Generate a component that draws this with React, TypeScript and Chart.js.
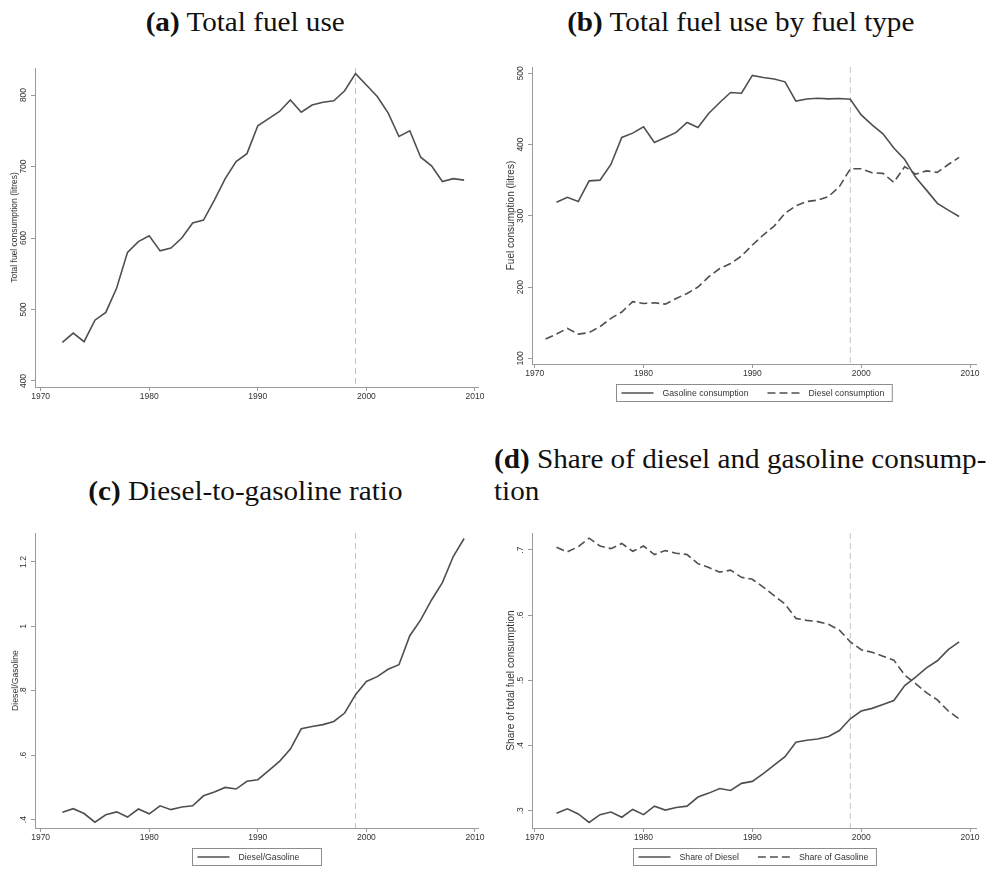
import React, { useEffect, useRef } from "react";
import { Chart, registerables } from "chart.js";

Chart.register(...registerables);

// ---------------- DATA ----------------
const YEARS = [
  1972, 1973, 1974, 1975, 1976, 1977, 1978, 1979, 1980, 1981,
  1982, 1983, 1984, 1985, 1986, 1987, 1988, 1989, 1990, 1991,
  1992, 1993, 1994, 1995, 1996, 1997, 1998, 1999, 2000, 2001,
  2002, 2003, 2004, 2005, 2006, 2007, 2008, 2009,
];
const DIESEL_YEARS = [
  1971, 1972, 1973, 1974, 1975, 1976, 1977, 1978, 1979, 1980, 1981,
  1982, 1983, 1984, 1985, 1986, 1987, 1988, 1989, 1990, 1991,
  1992, 1993, 1994, 1995, 1996, 1997, 1998, 1999, 2000, 2001,
  2002, 2003, 2004, 2005, 2006, 2007, 2008, 2009,
];

// (a) Total fuel consumption (litres)
const TOTAL_FUEL = [
  454, 467, 455, 485, 496, 530, 580, 595, 603, 582,
  586, 600, 621, 625, 653, 683, 707, 718, 757, 767,
  777, 793, 776, 786, 790, 792, 806, 830, 814, 798,
  775, 742, 750, 713, 701, 679, 683, 681,
];

// (b) Fuel consumption by type (litres)
const GASOLINE = [
  319, 326, 320, 349, 350, 372, 410, 416, 425, 403,
  410, 417, 431, 424, 444, 459, 473, 472, 497, 494,
  492, 488, 461, 464, 465, 464, 464.5, 463.5, 441.5, 427.5,
  415, 395, 379, 354, 336, 317.5, 308, 299,
];
const DIESEL = [
  127, 134, 142, 134, 136, 144.5, 156, 165, 179.5, 177, 178,
  176, 184, 191, 200, 214.5, 226, 233, 243.5, 259, 273,
  285.5, 303.5, 314, 320, 322, 327, 341, 366, 366, 360.5,
  359.5, 347, 369, 358.5, 363, 361, 372, 382,
];

// (c) Diesel-to-gasoline ratio
const RATIO = [
  0.423, 0.434, 0.419, 0.392, 0.415, 0.424, 0.408, 0.433, 0.418, 0.443,
  0.431, 0.439, 0.443, 0.474, 0.486, 0.500, 0.495, 0.519, 0.524, 0.552,
  0.581, 0.619, 0.682, 0.689, 0.695, 0.705, 0.731, 0.788, 0.829, 0.844,
  0.867, 0.881, 0.971, 1.020, 1.082, 1.136, 1.217, 1.273,
];

// (d) Shares of total fuel consumption
const SHARE_DIESEL = [
  0.296, 0.303, 0.295, 0.282, 0.294, 0.298, 0.290, 0.302, 0.294, 0.307,
  0.301, 0.305, 0.307, 0.321, 0.327, 0.334, 0.331, 0.342, 0.345, 0.357,
  0.370, 0.383, 0.405, 0.408, 0.410, 0.414, 0.423, 0.441, 0.453, 0.457,
  0.463, 0.469, 0.492, 0.505, 0.519, 0.530, 0.547, 0.559,
];
const SHARE_GASOLINE = [
  0.704, 0.697, 0.705, 0.718, 0.706, 0.702, 0.710, 0.698, 0.706, 0.693,
  0.699, 0.695, 0.693, 0.679, 0.673, 0.666, 0.669, 0.658, 0.655, 0.643,
  0.630, 0.617, 0.595, 0.592, 0.590, 0.586, 0.577, 0.559, 0.547, 0.543,
  0.537, 0.531, 0.508, 0.495, 0.481, 0.470, 0.453, 0.441,
];

const X_TICKS = [1970, 1980, 1990, 2000, 2010];
const Y_TICKS_A = [400, 500, 600, 700, 800];
const Y_TICKS_B = [100, 200, 300, 400, 500];
const Y_TICKS_C = [0.4, 0.6, 0.8, 1, 1.2];
const Y_TICKS_D = [0.3, 0.4, 0.5, 0.6, 0.7];
const VLINE_YEAR = 1999;

// ---------------- STYLE ----------------
const LINE_COLOR = "#4f4f4f";
const AXIS_COLOR = "#9a9a9a";
const TEXT_COLOR = "#333333";
const SANS = '"Liberation Sans", Arial, sans-serif';
const SERIF = '"Liberation Serif", "Times New Roman", serif';
const DASH = [8, 4];

const fmt = (v: number) => {
  const s = String(v);
  return s.startsWith("0.") ? s.slice(1) : s;
};

const pts = (xs: number[], ys: number[]) => xs.map((x, i) => ({ x, y: ys[i] }));

// ---------------- PLUGINS ----------------
const stataPlugin = {
  id: "stata",
  beforeDatasetsDraw(chart: any) {
    const { ctx, chartArea, scales } = chart;
    const x = scales.x.getPixelForValue(VLINE_YEAR);
    ctx.save();
    ctx.strokeStyle = "#c4c4c4";
    ctx.lineWidth = 1;
    ctx.setLineDash([6, 4]);
    ctx.beginPath();
    ctx.moveTo(x, chartArea.top);
    ctx.lineTo(x, chartArea.bottom);
    ctx.stroke();
    ctx.restore();
  },
  afterDraw(chart: any, _args: any, opts: any) {
    const { ctx, chartArea, scales } = chart;
    // rotated y tick labels
    const ys = scales.y;
    ctx.save();
    ctx.fillStyle = TEXT_COLOR;
    ctx.font = `8.5px ${SANS}`;
    ctx.textAlign = "center";
    ctx.textBaseline = "middle";
    ys.ticks.forEach((t: any) => {
      const py = ys.getPixelForValue(t.value);
      ctx.save();
      ctx.translate(chartArea.left - (opts.yLabelOffset || 11), py);
      ctx.rotate(-Math.PI / 2);
      ctx.fillText(fmt(t.value), 0, 0);
      ctx.restore();
    });
    ctx.restore();

    // legend with frame
    if (!opts.legend) return;
    const ds = chart.data.datasets;
    const font = `8.7px ${SANS}`;
    ctx.save();
    ctx.font = font;
    const padL = 5, sample = 32, gap = 9, colGap = 19, padR = 8;
    const widths = ds.map((d: any) => ctx.measureText(d.label).width);
    let content = padL + padR;
    widths.forEach((w: number, i: number) => {
      content += sample + gap + w + (i > 0 ? colGap : 0);
    });
    const boxW = Math.max(content, opts.legendMinWidth || 0);
    const boxH = 17;
    const cx = (chartArea.left + chartArea.right) / 2;
    const left = Math.round(cx - boxW / 2) + 0.5;
    const top = Math.round(chartArea.bottom + (opts.legendOffset || 20)) + 0.5;
    ctx.strokeStyle = "#8c8c8c";
    ctx.lineWidth = 1;
    ctx.strokeRect(left, top, boxW, boxH);
    let x = left + padL;
    const my = top + boxH / 2;
    ds.forEach((d: any, i: number) => {
      if (i > 0) x += colGap;
      ctx.strokeStyle = LINE_COLOR;
      ctx.lineWidth = 1.5;
      ctx.setLineDash(d.borderDash || []);
      ctx.beginPath();
      ctx.moveTo(x, my);
      ctx.lineTo(x + sample, my);
      ctx.stroke();
      ctx.setLineDash([]);
      x += sample + gap;
      ctx.fillStyle = TEXT_COLOR;
      ctx.textAlign = "left";
      ctx.textBaseline = "middle";
      ctx.fillText(d.label, x, my + 0.5);
      x += widths[i];
    });
    ctx.restore();
  },
};

// ---------------- PANELS ----------------
type Series = { label: string; xs: number[]; ys: number[]; dash?: number[] };
type Panel = {
  key: string;
  left: number;
  top: number;
  width: number;
  height: number;
  yWidth: number;
  padTop: number;
  padRight: number;
  padBottom: number;
  xMin: number;
  xMax: number;
  yMin: number;
  yMax: number;
  yTicks: number[];
  yTitle: string;
  yTitleSize: number;
  yTitlePad: number;
  legend: boolean;
  legendMinWidth?: number;
  series: Series[];
};

const PANELS: Panel[] = [
  {
    key: "a", left: 0, top: 50, width: 490, height: 370,
    yWidth: 35, padTop: 18, padRight: 12, padBottom: 13,
    xMin: 1969.48, xMax: 2010.28, yMin: 391.6, yMax: 837.8,
    yTicks: Y_TICKS_A, yTitle: "Total fuel consumption (litres)", yTitleSize: 8.5, yTitlePad: 10,
    legend: false,
    series: [{ label: "Total fuel consumption", xs: YEARS, ys: TOTAL_FUEL }],
  },
  {
    key: "b", left: 494, top: 50, width: 494, height: 370,
    yWidth: 38, padTop: 17, padRight: 12, padBottom: 36,
    xMin: 1969.75, xMax: 2010.55, yMin: 92, yMax: 508.8,
    yTicks: Y_TICKS_B, yTitle: "Fuel consumption (litres)", yTitleSize: 10, yTitlePad: 11,
    legend: true,
    series: [
      { label: "Gasoline consumption", xs: YEARS, ys: GASOLINE },
      { label: "Diesel consumption", xs: DIESEL_YEARS, ys: DIESEL, dash: DASH },
    ],
  },
  {
    key: "c", left: 0, top: 520, width: 490, height: 349,
    yWidth: 35, padTop: 13, padRight: 12, padBottom: 21,
    xMin: 1969.48, xMax: 2010.28, yMin: 0.374, yMax: 1.29,
    yTicks: Y_TICKS_C, yTitle: "Diesel/Gasoline", yTitleSize: 8.7, yTitlePad: 10,
    legend: true, legendMinWidth: 129,
    series: [{ label: "Diesel/Gasoline", xs: YEARS, ys: RATIO }],
  },
  {
    key: "d", left: 494, top: 520, width: 494, height: 349,
    yWidth: 38, padTop: 13, padRight: 12, padBottom: 21,
    xMin: 1969.75, xMax: 2010.55, yMin: 0.2735, yMax: 0.726,
    yTicks: Y_TICKS_D, yTitle: "Share of total fuel consumption", yTitleSize: 10.2, yTitlePad: 11,
    legend: true,
    series: [
      { label: "Share of Diesel", xs: YEARS, ys: SHARE_DIESEL },
      { label: "Share of Gasoline", xs: YEARS, ys: SHARE_GASOLINE, dash: DASH },
    ],
  },
];

function ChartPanel({ p }: { p: Panel }) {
  const ref = useRef<HTMLCanvasElement | null>(null);
  useEffect(() => {
    if (!ref.current) return;
    const tickGrid = {
      display: true,
      drawOnChartArea: false,
      drawTicks: true,
      tickLength: 4,
      tickColor: AXIS_COLOR,
      tickWidth: 1,
    };
    const chart = new Chart(ref.current, {
      type: "line",
      data: {
        datasets: p.series.map((s) => ({
          label: s.label,
          data: pts(s.xs, s.ys),
          borderColor: LINE_COLOR,
          backgroundColor: LINE_COLOR,
          borderWidth: 1.6,
          borderDash: s.dash || [],
          pointRadius: 0,
          fill: false,
          tension: 0,
        })),
      },
      options: {
        animation: false,
        responsive: false,
        maintainAspectRatio: false,
        layout: { padding: { top: p.padTop, right: p.padRight, bottom: p.padBottom, left: 0 } },
        plugins: {
          legend: { display: false },
          tooltip: { enabled: false },
          stata: { legend: p.legend, legendMinWidth: p.legendMinWidth, yLabelOffset: 11, legendOffset: 20 },
        } as any,
        scales: {
          x: {
            type: "linear",
            min: p.xMin,
            max: p.xMax,
            afterBuildTicks: (s: any) => { s.ticks = X_TICKS.map((v) => ({ value: v })); },
            afterFit: (s: any) => { s.height = 20; },
            grid: tickGrid,
            border: { display: true, color: AXIS_COLOR, width: 1 },
            ticks: {
              color: TEXT_COLOR,
              font: { family: SANS, size: 8.5 },
              padding: 1,
              maxRotation: 0,
              autoSkip: false,
              callback: (v: any) => String(v),
            },
          },
          y: {
            type: "linear",
            min: p.yMin,
            max: p.yMax,
            afterBuildTicks: (s: any) => { s.ticks = p.yTicks.map((v) => ({ value: v })); },
            afterFit: (s: any) => { s.width = p.yWidth; },
            grid: tickGrid,
            border: { display: true, color: AXIS_COLOR, width: 1 },
            ticks: { display: false },
            title: {
              display: true,
              text: p.yTitle,
              color: TEXT_COLOR,
              font: { family: SANS, size: p.yTitleSize },
              padding: { top: p.yTitlePad, bottom: 0 },
            },
          },
        },
      } as any,
      plugins: [stataPlugin],
    });
    return () => chart.destroy();
  }, [p]);
  return (
    <canvas
      ref={ref}
      width={p.width}
      height={p.height}
      style={{ position: "absolute", left: p.left, top: p.top, width: p.width, height: p.height }}
    />
  );
}

const titleBase: React.CSSProperties = {
  position: "absolute",
  fontFamily: SERIF,
  fontSize: 27,
  lineHeight: "32px",
  color: "#111",
  whiteSpace: "nowrap",
};
const stretch: React.CSSProperties = { display: "inline-block", transform: "scaleX(1.08)" };

export default function App() {
  return (
    <div style={{ position: "absolute", left: 0, top: 0, width: 988, height: 869, background: "#fff", overflow: "hidden" }}>
      <div style={{ ...titleBase, left: 0, top: 6, width: 490, textAlign: "center" }}>
        <span style={{ ...stretch, transformOrigin: "center" }}><b>(a)</b> Total fuel use</span>
      </div>
      <div style={{ ...titleBase, left: 494, top: 6, width: 494, textAlign: "center" }}>
        <span style={{ ...stretch, transformOrigin: "center" }}><b>(b)</b> Total fuel use by fuel type</span>
      </div>
      <div style={{ ...titleBase, left: 0, top: 475, width: 490, textAlign: "center" }}>
        <span style={{ ...stretch, transformOrigin: "center" }}><b>(c)</b> Diesel-to-gasoline ratio</span>
      </div>
      <div style={{ ...titleBase, left: 494, top: 443, width: 494, textAlign: "left" }}>
        <span style={{ ...stretch, transformOrigin: "left" }}>
          <b>(d)</b> Share of diesel and gasoline consump-
          <br />
          tion
        </span>
      </div>
      {PANELS.map((p) => (
        <ChartPanel key={p.key} p={p} />
      ))}
    </div>
  );
}
